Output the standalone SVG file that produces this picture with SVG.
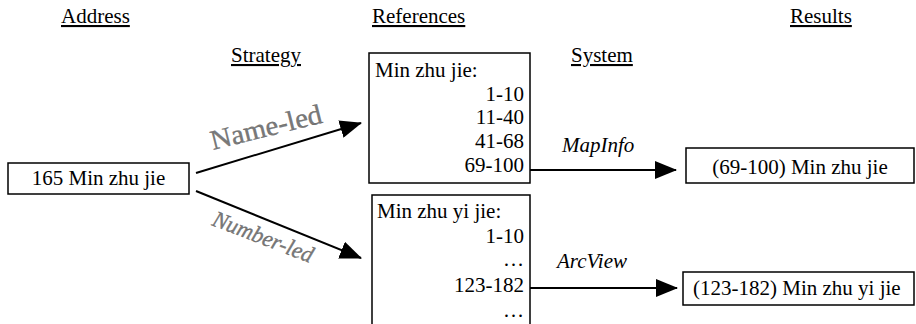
<svg xmlns="http://www.w3.org/2000/svg" width="916" height="324" viewBox="0 0 916 324">
  <style>
    text { font-family: "Liberation Serif", "Times New Roman", serif; font-size: 21px; fill: #000; }
    .hdr { text-decoration: underline; }
    .box { fill: #fff; stroke: #000; stroke-width: 1.5; }
    .edge { fill: none; stroke: #000; stroke-width: 2; }
    .num { text-anchor: end; }
    .sys { font-style: italic; }
    .strat { fill: #7a7a7a; stroke: #5a5a5a; stroke-width: 0.3; }
    .name-led { font-size: 28px; }
    .number-led { font-size: 23px; font-style: italic; }
  </style>
  <defs>
    <marker id="head" markerUnits="userSpaceOnUse" markerWidth="22" markerHeight="18" refX="21" refY="9" orient="auto">
      <path d="M0,0 L22,9 L0,18 Z" fill="#000"/>
    </marker>
  </defs>

  <!-- column headings -->
  <g id="headings">
    <text class="hdr" x="61" y="23">Address</text>
    <text class="hdr" x="231" y="62">Strategy</text>
    <text class="hdr" x="372" y="23">References</text>
    <text class="hdr" x="571" y="62">System</text>
    <text class="hdr" x="790" y="23">Results</text>
  </g>

  <!-- connectors -->
  <g id="connectors">
    <line class="edge" x1="196" y1="173" x2="361" y2="123" marker-end="url(#head)"/>
    <line class="edge" x1="196" y1="191" x2="361" y2="258" marker-end="url(#head)"/>
    <line class="edge" x1="530" y1="170" x2="676" y2="170" marker-end="url(#head)"/>
    <line class="edge" x1="530" y1="288" x2="677" y2="288" marker-end="url(#head)"/>
    <text class="strat name-led" textLength="114" lengthAdjust="spacingAndGlyphs" transform="translate(213 150) rotate(-14)">Name-led</text>
    <text class="strat number-led" textLength="106" lengthAdjust="spacingAndGlyphs" transform="translate(211 225) rotate(21)">Number-led</text>
    <text class="sys" x="562" y="152">MapInfo</text>
    <text class="sys" x="557" y="268">ArcView</text>
  </g>

  <!-- input address -->
  <g id="address">
    <rect class="box" x="8" y="163" width="181" height="31"/>
    <text x="98.5" y="185" text-anchor="middle">165 Min zhu jie</text>
  </g>

  <!-- reference table: Min zhu jie -->
  <g id="ref-min-zhu-jie">
    <rect class="box" x="369" y="53" width="161" height="130"/>
    <text x="375" y="77">Min zhu jie:</text>
    <text class="num" x="524" y="101">1-10</text>
    <text class="num" x="524" y="124">11-40</text>
    <text class="num" x="524" y="148">41-68</text>
    <text class="num" x="524" y="172">69-100</text>
  </g>

  <!-- reference table: Min zhu yi jie -->
  <g id="ref-min-zhu-yi-jie">
    <rect class="box" x="372" y="195" width="158" height="140"/>
    <text x="377" y="218">Min zhu yi jie:</text>
    <text class="num" x="524" y="243">1-10</text>
    <text class="num" x="524" y="266">…</text>
    <text class="num" x="524" y="292">123-182</text>
    <text class="num" x="524" y="317">…</text>
  </g>

  <!-- results -->
  <g id="result-mapinfo">
    <rect class="box" x="686" y="148" width="228" height="35"/>
    <text x="800" y="174" text-anchor="middle">(69-100) Min zhu jie</text>
  </g>
  <g id="result-arcview">
    <rect class="box" x="683" y="272" width="231" height="33"/>
    <text x="693" y="295">(123-182) Min zhu yi jie</text>
  </g>
</svg>
